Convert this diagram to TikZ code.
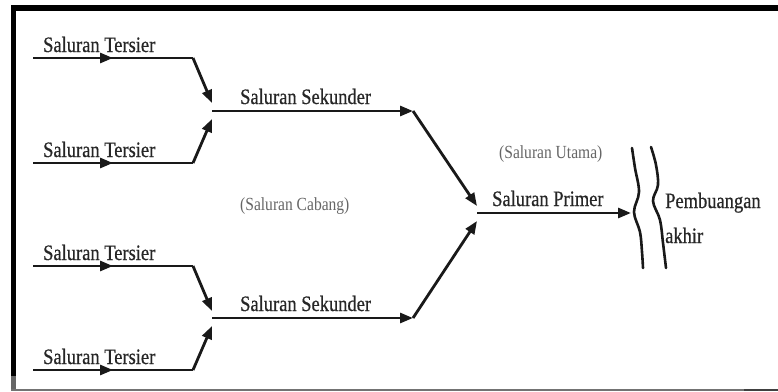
\documentclass[tikz,border=0pt]{standalone}
\usepackage{fontspec}
\setmainfont{Liberation Serif}
\newfontfamily\labfont[FakeStretch=0.84,FakeBold=0.6]{Liberation Serif}
\newfontfamily\sublabfont[FakeStretch=0.84]{Liberation Serif}
\usetikzlibrary{arrows.meta,decorations.markings}
\tikzset{
  chan/.style={line width=2.8pt, draw=black!90},
  tip/.style={-{Triangle[length=13pt,width=10pt]}},
  midtip/.style={decoration={markings,mark=at position 0.5 with {\arrow{Triangle[length=13pt,width=10pt]}}},postaction={decorate}},
  lab/.style={font=\labfont\fontsize{22}{25}\selectfont, text=black!85, inner sep=0pt, anchor=base west},
  sublab/.style={font=\sublabfont\fontsize{18.5}{21}\selectfont, text=black!60, inner sep=0pt, anchor=base west},
  wave/.style={line width=2.6pt, draw=black!90, line cap=round}
}
\begin{document}
\begin{tikzpicture}[x=1pt,y=-1pt]
\useasboundingbox (0,0) rectangle (778,391);
% frame
\draw[line width=6pt] (11,8) -- (778,8);
\draw[line width=5pt] (13.5,5) -- (13.5,376);
\draw[line width=5pt, black!60] (13.5,376) -- (13.5,391);
\draw[line width=2pt, black!55] (11,389.5) -- (744,389.5);
\draw[line width=2pt, black!75] (744,389.5) -- (778,389.5);

% coordinates
\coordinate (t1s) at (33,58);   \coordinate (t1b) at (193,58);
\coordinate (t2s) at (33,163);  \coordinate (t2b) at (193,163);
\coordinate (t3s) at (33,266);  \coordinate (t3b) at (193,266);
\coordinate (t4s) at (33,370);  \coordinate (t4b) at (193,370);
\coordinate (j1a) at (212,103); \coordinate (j1b) at (212,119);
\coordinate (j2a) at (212,311); \coordinate (j2b) at (212,326);
\coordinate (s1s) at (212,111); \coordinate (s1e) at (413,111);
\coordinate (s2s) at (212,318); \coordinate (s2e) at (413,318);
\coordinate (pa) at (477,206);  \coordinate (pb) at (477,221);
\coordinate (ps) at (477,213);  \coordinate (pe) at (631,213);

% tertiary channels
\draw[chan,midtip] (t1s) -- (t1b);
\draw[chan,tip] (t1b) -- (j1a);
\draw[chan,midtip] (t2s) -- (t2b);
\draw[chan,tip] (t2b) -- (j1b);
\draw[chan,midtip] (t3s) -- (t3b);
\draw[chan,tip] (t3b) -- (j2a);
\draw[chan,midtip] (t4s) -- (t4b);
\draw[chan,tip] (t4b) -- (j2b);

% secondary channels
\draw[chan,tip] (s1s) -- (s1e);
\draw[chan,tip] (s1e) -- (pa);
\draw[chan,tip] (s2s) -- (s2e);
\draw[chan,tip] (s2e) -- (pb);

% primary channel
\draw[chan,tip] (ps) -- (pe);

% final discharge wavy lines
\draw[wave] plot[smooth, tension=0.6] coordinates {(632,148) (635,168) (639,192) (634,212) (640,232) (642,252) (643,268)};
\draw[wave] plot[smooth, tension=0.6] coordinates {(651,147) (656,165) (658,185) (653,201) (660,220) (663,243) (666,268)};

% labels
\node[lab] (lt1) at (43,52) {Saluran Tersier};
\node[lab] (lt2) at (43,157) {Saluran Tersier};
\node[lab] (lt3) at (43,260) {Saluran Tersier};
\node[lab] (lt4) at (43,364) {Saluran Tersier};
\node[lab] (ls1) at (240,104) {Saluran Sekunder};
\node[lab] (ls2) at (240,311) {Saluran Sekunder};
\node[sublab] (lcab) at (240,210) {(Saluran Cabang)};
\node[sublab] (luta) at (499,158) {(Saluran Utama)};
\node[lab] (lpri) at (492,206) {Saluran Primer};
\node[lab] (lpem) at (665,208) {Pembuangan};
\node[lab] (lakh) at (665,243) {akhir};
\end{tikzpicture}
\end{document}
